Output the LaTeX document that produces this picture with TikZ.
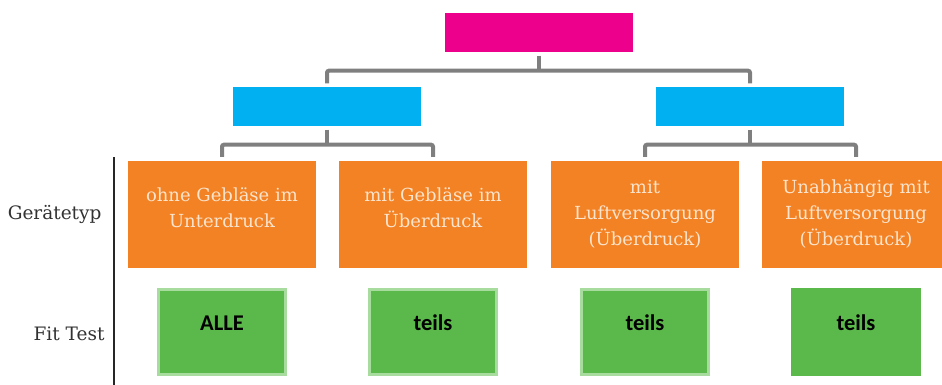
\documentclass[tikz,border=0pt]{standalone}
\usepackage{fontspec}
\setmainfont{DejaVu Serif}
\newfontfamily\fitfont{Carlito}
\usepackage{tikz}
\usetikzlibrary{positioning,calc}
\definecolor{topmagenta}{RGB}{236,0,140}
\definecolor{groupblue}{RGB}{0,176,240}
\definecolor{typeorange}{RGB}{242,130,36}
\definecolor{typetext}{RGB}{252,228,205}
\definecolor{fitgreen}{RGB}{91,184,74}
\definecolor{fitrim}{RGB}{168,219,158}
\definecolor{linkgray}{RGB}{127,127,127}
\definecolor{labelgray}{RGB}{50,50,50}

\begin{document}
\begin{tikzpicture}[x=1pt, y=-1pt,
        headbox/.style={fill=#1, minimum width=188pt, minimum height=39pt, inner sep=0pt},
        typebox/.style={fill=typeorange, minimum width=188pt, minimum height=107pt, inner sep=0pt,
            align=center, text=typetext, font=\fontsize{18}{26}\selectfont},
        fitbox/.style={fill=fitgreen, draw=#1, line width=3pt, minimum width=127pt, minimum height=85pt,
            inner sep=0pt, text height=14pt, text depth=18pt, font=\fitfont\bfseries\fontsize{22.5}{26}\selectfont},
        rowlabel/.style={anchor=east, text=labelgray, font=\fontsize{18.5}{20}\selectfont},
        link/.style={draw=linkgray, line width=4pt, rounded corners=2pt}]
        \useasboundingbox (0,0) rectangle (942,385);
        % top row
        \node[headbox=topmagenta] (top) at (539,33) {};
        \node[headbox=groupblue] (groupL) at (327,107) {};
        \node[headbox=groupblue] (groupR) at (750,107) {};
        % Geraetetyp
        \node[typebox] (type1) at (222,214.5) {ohne Gebläse im\\Unterdruck\\[-12pt]\mbox{}};
        \node[typebox] (type2) at (433,214.5) {mit Gebläse im\\Überdruck\\[-12pt]\mbox{}};
        \node[typebox] (type3) at (645,214.5) {mit\\Luftversorgung\\(Überdruck)};
        \node[typebox] (type4) at (856,214.5) {Unabhängig mit\\Luftversorgung\\(Überdruck)};
        % Fit Test
        \foreach \i/\x/\t/\c in {1/222/ALLE/fitrim, 2/433/teils/fitrim, 3/645/teils/fitrim, 4/856/teils/fitgreen} {
            \node[fitbox=\c] (fit\i) at (\x,332) {\t};
        }
        % row labels and rule
        \node[rowlabel] (lbltype) at (105,214) {Gerätetyp};
        \node[rowlabel] (lblfit) at (108,334) {Fit Test};
        \coordinate (ruletop) at (114,157);
        \coordinate (rulebot) at (114,386);
        \draw[line width=1.6pt, black!85] (ruletop) -- (rulebot);
        % connectors
        \draw[link] ($(top.south)+(0,3)$) -- ($(top.south)+(0,18)$);
        \draw[link] ($(groupL.north)+(0,-4)$) |- ($(top.south)+(0,18)$) -| ($(groupR.north)+(0,-4)$);
        \draw[link] ($(groupL.south)+(0,3)$) -- ($(groupL.south)+(0,18)$);
        \draw[link] ($(type1.north)+(0,-4)$) |- ($(groupL.south)+(0,18)$) -| ($(type2.north)+(0,-4)$);
        \draw[link] ($(groupR.south)+(0,3)$) -- ($(groupR.south)+(0,18)$);
        \draw[link] ($(type3.north)+(0,-4)$) |- ($(groupR.south)+(0,18)$) -| ($(type4.north)+(0,-4)$);
    \end{tikzpicture}
\end{document}
